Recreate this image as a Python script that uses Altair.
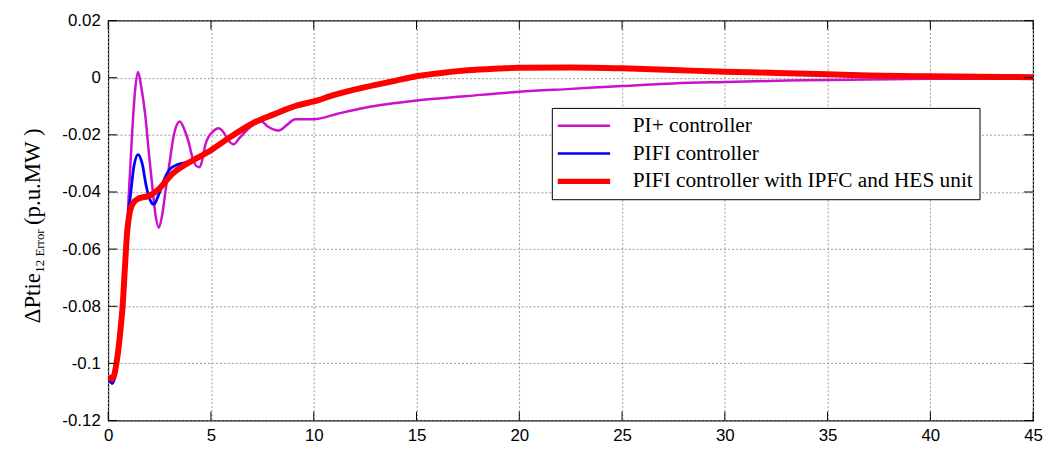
import altair as alt
import pandas as pd

# ---- data ----
pi_t = [0, 0.2, 0.4, 0.6, 0.8, 0.9, 1.0, 1.16, 1.3, 1.45, 1.6, 1.8, 2.0, 2.13, 2.3, 2.46, 2.6, 2.8,
        2.95, 3.2, 3.48, 3.7, 3.9, 4.1, 4.3, 4.45, 4.6, 4.73, 5.1, 5.36, 5.6, 5.85, 6.1, 6.4, 6.8,
        7.1, 7.45, 7.75, 8.0, 8.3, 8.7, 9.1, 10.0, 11.2, 12.5, 15, 17.5, 20, 22.5, 25, 27.5, 30,
        33, 35, 38, 40, 45]
pi_v = [-0.1055, -0.107, -0.100, -0.088, -0.068, -0.055, -0.041, -0.0198, -0.005, 0.002, -0.003,
        -0.013, -0.028, -0.037, -0.048, -0.0525, -0.049, -0.039, -0.0315, -0.0198, -0.0153, -0.018,
        -0.0222, -0.028, -0.031, -0.0313, -0.028, -0.0233, -0.0188, -0.0177, -0.019, -0.022,
        -0.0233, -0.021, -0.018, -0.0163, -0.0153, -0.017, -0.018, -0.0185, -0.0165, -0.0145,
        -0.0145, -0.0125, -0.0105, -0.008, -0.0064, -0.0049, -0.0039, -0.0029, -0.002, -0.0015,
        -0.001, -0.0008, -0.0005, -0.0004, -0.0003]

pifi_t = [0, 0.2, 0.4, 0.6, 0.8, 0.95, 1.1, 1.25, 1.45, 1.65, 1.85, 2.05, 2.22, 2.45, 2.7, 3.0,
          3.35, 3.7, 4.0, 4.5, 4.9, 6.0, 7.15, 8.0, 9.2, 10, 11, 12.5, 14, 15, 16, 17.5, 19, 20,
          22.5, 25, 27.5, 30, 33, 35, 37, 40, 45]
pifi_v = [-0.105, -0.107, -0.102, -0.088, -0.066, -0.050, -0.040, -0.031, -0.0269, -0.030, -0.038,
          -0.043, -0.0443, -0.041, -0.036, -0.032, -0.0305, -0.0298, -0.0292, -0.0272, -0.0258,
          -0.0205, -0.0155, -0.013, -0.0097, -0.0083, -0.006, -0.0033, -0.001, 0.0008, 0.0018,
          0.0028, 0.0033, 0.0035, 0.0036, 0.0033, 0.0027, 0.0021, 0.0016, 0.0012, 0.0008, 0.0005,
          0.0002]

hes_t = [0, 0.2, 0.4, 0.6, 0.7, 0.8, 0.92, 1.05, 1.2, 1.5, 2.0, 2.46, 3.1, 3.9, 4.9, 6.0, 7.15,
         8.0, 9.2, 10, 11, 12.5, 14, 15, 16, 17.5, 19, 20, 22.5, 25, 27.5, 30, 33, 35, 37, 40, 45]
hes_v = [-0.1045, -0.1055, -0.100, -0.088, -0.080, -0.068, -0.054, -0.047, -0.044, -0.0422,
         -0.0413, -0.039, -0.0338, -0.0298, -0.0258, -0.0205, -0.0155, -0.013, -0.0097, -0.0083,
         -0.006, -0.0033, -0.001, 0.0005, 0.0015, 0.0026, 0.0032, 0.0035, 0.0036, 0.0033, 0.0027,
         0.0021, 0.0016, 0.0012, 0.0008, 0.0005, 0.0002]

series_names = ["PI+ controller", "PIFI controller", "PIFI controller with IPFC and HES unit"]
series_colors = ["#cc11cc", "#0000ff", "#ff0000"]
series_widths = [2.5, 2.8, 6]

x_ticks = [0, 5, 10, 15, 20, 25, 30, 35, 40, 45]
y_ticks = [0.02, 0, -0.02, -0.04, -0.06, -0.08, -0.1, -0.12]

# ---- build table ----
rows = []
for name, w, ts, vs in zip(series_names, series_widths, [pi_t, pifi_t, hes_t], [pi_v, pifi_v, hes_v]):
    for t, v in zip(ts, vs):
        rows.append({"t": t, "v": v, "series": name, "w": w})
df = pd.DataFrame(rows)

W, H = 932, 403
xscale = alt.Scale(domain=[0, 45], nice=False, zero=False)
yscale = alt.Scale(domain=[-0.12, 0.02], nice=False, zero=False)

label_expr = "datum.value < 0 ? '-' + format(-datum.value, '~g') : format(datum.value, '~g')"
sym_w_expr = ("datum.value == '" + series_names[2] + "' ? 5.5 : " + str(series_widths[0]))

lines = alt.Chart(df).mark_line(interpolate="monotone", clip=True).encode(
    x=alt.X("t:Q", scale=xscale,
            axis=alt.Axis(values=x_ticks, title=None, grid=True, ticks=False, domain=False,
                          labelFont="Liberation Sans", labelFontSize=17, labelColor="black",
                          labelPadding=7, gridColor="#999999", gridDash=[2, 2], gridWidth=1,
                          labelFlush=False)),
    y=alt.Y("v:Q", scale=yscale,
            axis=alt.Axis(values=y_ticks, title=None, grid=True, ticks=False, domain=False,
                          labelFont="Liberation Sans", labelFontSize=17, labelColor="black",
                          labelPadding=8, gridColor="#999999", gridDash=[2, 2], gridWidth=1,
                          labelExpr=label_expr, labelFlush=False)),
    color=alt.Color("series:N",
                    scale=alt.Scale(domain=series_names, range=series_colors),
                    legend=alt.Legend(title=None, orient="none", legendX=447, legendY=88,
                                      symbolType="stroke", symbolSize=3600, symbolOffset=12,
                                      labelFont="Liberation Serif", labelFontSize=21.5,
                                      labelColor="black", labelOffset=42, clipHeight=24,
                                      rowPadding=4, padding=6, strokeColor="black",
                                      fillColor="white", labelLimit=500,
                                      symbolStrokeWidth={"expr": sym_w_expr})),
    strokeWidth=alt.StrokeWidth("w:Q", scale=None, legend=None),
    order=alt.Order("t:Q"),
)

# inward tick marks (bottom/top and left/right)
xt = pd.DataFrame({"t": x_ticks})
yt = pd.DataFrame({"v": y_ticks})
tick_b = alt.Chart(xt).mark_rule(color="black", strokeWidth=1).encode(
    x=alt.X("t:Q", scale=xscale), y=alt.value(H), y2=alt.value(H - 9))
tick_t = alt.Chart(xt).mark_rule(color="black", strokeWidth=1).encode(
    x=alt.X("t:Q", scale=xscale), y=alt.value(0), y2=alt.value(9))
tick_l = alt.Chart(yt).mark_rule(color="black", strokeWidth=1).encode(
    y=alt.Y("v:Q", scale=yscale), x=alt.value(0), x2=alt.value(9))
tick_r = alt.Chart(yt).mark_rule(color="black", strokeWidth=1).encode(
    y=alt.Y("v:Q", scale=yscale), x=alt.value(W), x2=alt.value(W - 9))

# y-axis title with subscript, built from three text pieces
t1 = alt.Chart(pd.DataFrame({"s": ["ΔPtie"]})).mark_text(
    font="Liberation Serif", fontSize=23, angle=270, align="left", baseline="alphabetic",
    color="black").encode(text="s:N", x=alt.value(-69), y=alt.value(305))
t2 = alt.Chart(pd.DataFrame({"s": ["12 Error"]})).mark_text(
    font="Liberation Serif", fontSize=13, angle=270, align="left", baseline="alphabetic",
    color="black").encode(text="s:N", x=alt.value(-65), y=alt.value(254))
t3 = alt.Chart(pd.DataFrame({"s": ["(p.u.MW )"]})).mark_text(
    font="Liberation Serif", fontSize=23, angle=270, align="left", baseline="alphabetic",
    color="black").encode(text="s:N", x=alt.value(-69), y=alt.value(206))

chart = alt.layer(lines, tick_b, tick_t, tick_l, tick_r, t1, t2, t3).properties(
    width=W, height=H,
    autosize=alt.AutoSizeParams(type="none"),
    padding={"left": 101, "top": 11, "right": 16, "bottom": 26},
    background="white",
).configure_view(stroke="black", strokeWidth=1.2)

chart.save("out.html", embed_options={"renderer": "svg", "actions": False})
